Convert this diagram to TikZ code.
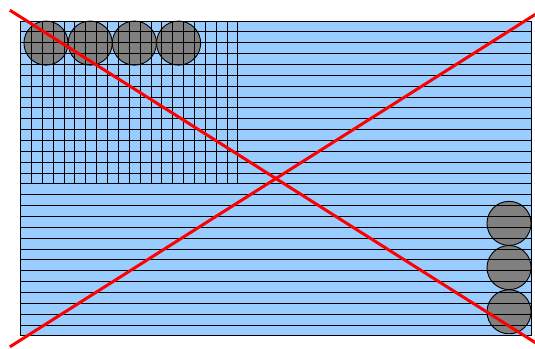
\documentclass[tikz,border=0pt]{standalone}
\usepackage{tikz}
\usetikzlibrary{arrows.meta, positioning}
\definecolor{mSky}{HTML}{99CCFF}
\definecolor{mStone}{HTML}{808080}
\definecolor{mRed}{HTML}{FF0000}

\begin{document}
\begin{tikzpicture}[x=10.86pt, y=10.86pt]
    \useasboundingbox (-1.906,-1.197) rectangle (47.36,30.94);
    \fill[mSky] (0,0) rectangle (47,29);
    % round bins along the top and the right side
    \foreach \i in {0,...,3}
      \filldraw[fill=mStone, draw=black, line width=0.9pt] (2.33+4.07*\i,26.97) circle (2.03);
    \foreach \i in {0,1,2}
      \filldraw[fill=mStone, draw=black, line width=0.9pt] (44.97,2.23+4.07*\i) circle (2.03);
    % rows
    \foreach \y in {1,...,28} \draw[line width=1pt] (0,\y) -- (47,\y);
    % fine grid in the top left corner
    \foreach \x in {1,...,20} \draw[line width=1pt] (\x,14) -- (\x,29);
    \draw[line width=1pt] (0,0) rectangle (47,29);
    % crossed out
    \draw[mRed, line width=3pt] (-1,-1) -- (48,30);
    \draw[mRed, line width=3pt] (-1,30) -- (48,-1);
  \end{tikzpicture}
\end{document}
